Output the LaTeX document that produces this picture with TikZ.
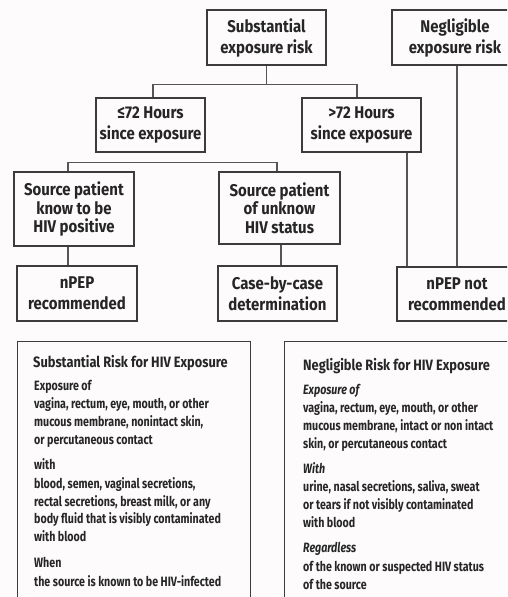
\documentclass[tikz,border=0pt]{standalone}
\usepackage{fontspec}
\setmainfont{Fira Sans}
\newfontfamily\boxf{Fira Sans}[FakeStretch=0.88]
\newfontfamily\bodyf{Fira Sans}[FakeStretch=0.79]
\newfontfamily\ttlf{Fira Sans}[FakeStretch=0.855]
\usetikzlibrary{calc}
\definecolor{ink}{HTML}{262626}
\definecolor{edge}{HTML}{3C3C3C}
\definecolor{wirec}{HTML}{555555}
\definecolor{bg}{HTML}{FDFBFB}
\begin{document}
\begin{tikzpicture}[x=1pt,y=-1pt,
  box/.style={draw=edge, line width=1.3pt, rectangle, inner sep=0pt, align=center, text=ink, font=\boxf\bfseries\fontsize{17}{21}\selectfont},
  box3/.style={box, font=\boxf\bfseries\fontsize{17}{18.5}\selectfont},
  wire/.style={draw=wirec, line width=1.3pt},
  panel/.style={draw=edge, line width=1.3pt, rectangle, inner sep=0pt, anchor=north west},
  ttl/.style={anchor=base west, inner sep=0pt, text=ink, font=\ttlf\bfseries\fontsize{15}{18}\selectfont},
  bl/.style={anchor=base west, inner sep=0pt, text=ink, font=\bodyf\bfseries\fontsize{13.5}{16}\selectfont},
  bli/.style={anchor=base west, inner sep=0pt, text=ink, font=\bodyf\bfseries\itshape\fontsize{13.5}{16}\selectfont}
]
\useasboundingbox (0,0) rectangle (507,597);
\clip (0,0) rectangle (507,597);
\fill[bg] (0,0) rectangle (507,597);

% flow boxes
\node[box, minimum width=119pt, minimum height=55pt] (sub) at (266.5,37.5) {Substantial\\exposure risk};
\node[box, minimum width=126pt, minimum height=55pt] (neg) at (455,37.5) {Negligible\\exposure risk};
\node[box, minimum width=109pt, minimum height=54pt] (le72) at (150.5,125) {≤72 Hours\\since exposure};
\node[box, minimum width=119pt, minimum height=54pt] (gt72) at (361.5,125) {>72 Hours\\since exposure};
\node[box3, minimum width=120pt, minimum height=74pt] (known) at (74,209) {Source patient\\know to be\\HIV positive};
\node[box3, minimum width=121pt, minimum height=72pt] (unknown) at (279.5,208) {Source patient\\of unknow\\HIV status};
\node[box, minimum width=120pt, minimum height=55pt] (rec) at (77,293.5) {nPEP\\recommended};
\node[box, minimum width=119pt, minimum height=55pt] (case) at (277.5,293.5) {Case-by-case\\determination};
\node[box, minimum width=120pt, minimum height=54pt] (notrec) at (457,294) {nPEP not\\recommended};

% connectors
\draw[wire] (sub.south) -- ++(0,19) coordinate (j1);
\draw[wire] ([xshift=2.5pt]le72.north) |- (j1) -| ([xshift=-4.5pt]gt72.north);
\draw[wire] ([xshift=45.5pt]gt72.south) -- ([xshift=45.5pt]gt72.south |- notrec.north);
\draw[wire] ([xshift=2pt]neg.south) -- ([xshift=2pt]neg.south |- notrec.north);
\draw[wire] ([xshift=-6pt]known.north) -- ++(0,-9) coordinate (j2) -| ([xshift=-2.5pt]unknown.north);
\draw[wire] ([xshift=-6pt]known.south) -- ([xshift=-6pt]known.south |- rec.north);
\draw[wire] ([xshift=1.5pt]unknown.south) -- ([xshift=1.5pt]unknown.south |- case.north);

% panels
\node[panel, minimum width=233pt, minimum height=280pt] (lpanel) at (17,341) {};
\node[panel, minimum width=236pt, minimum height=280pt] (rpanel) at (284,341) {};

% left panel text
\node[ttl] (lt) at (33,367) {Substantial Risk for HIV Exposure};
\node[bl] (l1) at (34,390) {Exposure of};
\node[bl] (l2) at (34,408) {vagina, rectum, eye, mouth, or other};
\node[bl] (l3) at (34,426) {mucous membrane, nonintact skin,};
\node[bl] (l4) at (34,444) {or percutaneous contact};
\node[bl] (l5) at (34,469) {with};
\node[bl] (l6) at (34,488) {blood, semen, vaginal secretions,};
\node[bl] (l7) at (34,506) {rectal secretions, breast milk, or any};
\node[bl] (l8) at (34,523) {body fluid that is visibly contaminated};
\node[bl] (l9) at (34,541) {with blood};
\node[bl] (l10) at (34,567) {When};
\node[bl] (l11) at (34,586) {the source is known to be HIV-infected};

% right panel text
\node[ttl] (rt) at (303,370) {Negligible Risk for HIV Exposure};
\node[bli] (r1) at (303,394) {Exposure of};
\node[bl] (r2) at (303,412) {vagina, rectum, eye, mouth, or other};
\node[bl] (r3) at (303,430) {mucous membrane, intact or non intact};
\node[bl] (r4) at (303,448) {skin, or percutaneous contact};
\node[bli] (r5) at (303,473) {With};
\node[bl] (r6) at (303,491) {urine, nasal secretions, saliva, sweat};
\node[bl] (r7) at (303,509) {or tears if not visibly contaminated};
\node[bl] (r8) at (303,527) {with blood};
\node[bli] (r9) at (303,552) {Regardless};
\node[bl] (r10) at (303,571) {of the known or suspected HIV status};
\node[bl] (r11) at (303,589) {of the source};
\end{tikzpicture}
\end{document}
